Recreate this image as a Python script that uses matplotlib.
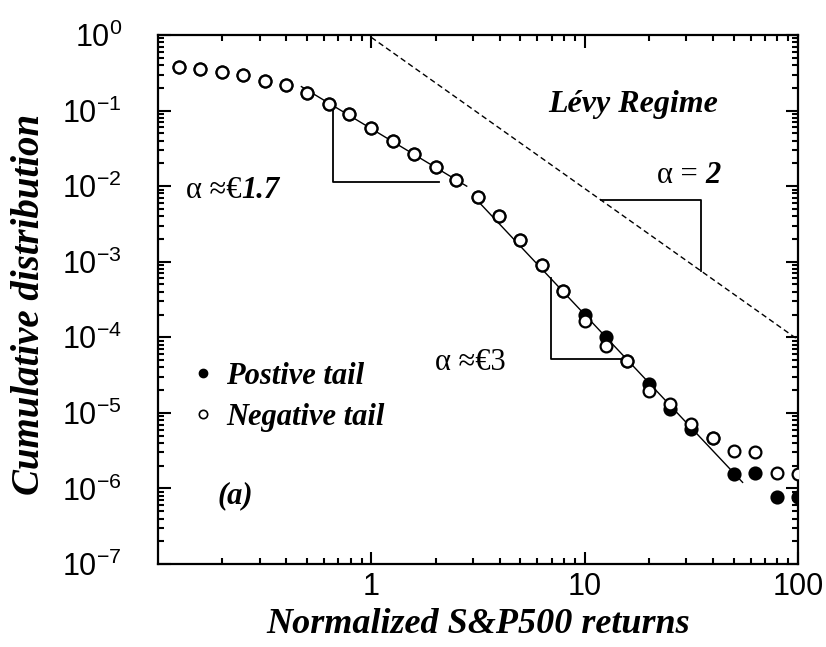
import numpy as np
import matplotlib
matplotlib.use("Agg")
import matplotlib.pyplot as plt
from matplotlib.lines import Line2D

# Normalized S&P500 returns (bin centres, 10 bins per decade)
returns = [0.126, 0.158, 0.2, 0.25, 0.316, 0.398, 0.5, 0.63, 0.79, 1.0,
           1.26, 1.58, 2.0, 2.5, 3.16, 3.98, 5.0, 6.3, 7.9, 10.0,
           12.6, 15.8, 20.0, 25.1, 31.6, 39.8, 50.1, 63.1, 79.4, 100.0]

# Cumulative distribution of the negative tail
negative_tail = [0.38, 0.357, 0.32, 0.295, 0.246, 0.215, 0.172, 0.124, 0.089, 0.058,
                 0.039, 0.0266, 0.0178, 0.0121, 0.00716, 0.00403, 0.00193, 0.000906, 0.00041, 0.000163,
                 7.6e-5, 4.8e-5, 1.95e-5, 1.3e-5, 7.1e-6, 4.7e-6, 3.1e-6, 3.0e-6, 1.58e-6, 1.56e-6]

# Cumulative distribution of the positive tail
positive_tail = [0.38, 0.357, 0.32, 0.295, 0.246, 0.215, 0.172, 0.124, 0.089, 0.058,
                 0.039, 0.0266, 0.0178, 0.0121, 0.00716, 0.00403, 0.00193, 0.000906, 0.00041, 0.000199,
                 1.0e-4, 4.8e-5, 2.39e-5, 1.12e-5, 6.1e-6, 4.7e-6, 1.56e-6, 1.58e-6, 7.7e-7, 7.7e-7]

# Power-law fits  P(x) = amp * x**(-alpha)
fit_mid = dict(alpha=1.7, amp=0.0575, xmin=0.47, xmax=2.8)
fit_tail = dict(alpha=3.0, amp=0.2, xmin=3.0, xmax=55.0)
fit_levy = dict(alpha=2.0, amp=0.93, xmin=1.0, xmax=100.0)

# Slope guides: (x start, x end, base level)
guide_mid = (0.664, 2.08, 0.0113)
guide_tail = (6.93, 14.9, 5.1e-5)
guide_levy = (11.97, 35.1)

x_ticks = [1, 10, 100]
y_ticks = [1e-7, 1e-6, 1e-5, 1e-4, 1e-3, 1e-2, 1e-1, 1e0]
y_ticklabels = ["$10^{-7}$", "$10^{-6}$", "$10^{-5}$", "$10^{-4}$",
                "$10^{-3}$", "$10^{-2}$", "$10^{-1}$", "$10^{0}$"]

plt.rcParams["mathtext.fontset"] = "custom"
plt.rcParams["mathtext.rm"] = "Liberation Sans"
plt.rcParams["mathtext.it"] = "Liberation Sans:italic"
plt.rcParams["mathtext.bf"] = "Liberation Sans:bold"

SERIF = "Liberation Serif"
bi = dict(family=SERIF, weight="bold", style="italic")


def power_law(fit, n=200):
    x = np.logspace(np.log10(fit["xmin"]), np.log10(fit["xmax"]), n)
    return x, fit["amp"] * x ** (-fit["alpha"])


def law_at(fit, x):
    return fit["amp"] * x ** (-fit["alpha"])


fig = plt.figure(figsize=(8.26, 6.47), dpi=100)
ax = fig.add_axes([158 / 826, 1 - 564 / 647, 640 / 826, 529 / 647])
ax.set_xscale("log")
ax.set_yscale("log")
ax.set_xlim(0.1, 100)
ax.set_ylim(1e-7, 10 ** -0.03)

# fitted power laws
xs, ys = power_law(fit_levy)
ax.plot(xs, ys, color="black", lw=1.0, ls=(0, (4, 2.5)), zorder=2)
xs, ys = power_law(fit_mid)
ax.plot(xs, ys, color="black", lw=1.0, zorder=2)
xs, ys = power_law(fit_tail)
ax.plot(xs, ys, color="black", lw=1.0, zorder=2)

# slope triangles
x0, x1, yb = guide_mid
ax.plot([x0, x0, x1], [law_at(fit_mid, x0), yb, yb], color="black", lw=1.3, zorder=2)
x0, x1, yb = guide_tail
ax.plot([x0, x0, x1], [law_at(fit_tail, x0), yb, yb], color="black", lw=1.3, zorder=2)
x0, x1 = guide_levy
ax.plot([x0, x1, x1], [law_at(fit_levy, x0), law_at(fit_levy, x0), law_at(fit_levy, x1)],
        color="black", lw=1.3, zorder=2)

# data
ax.plot(returns, positive_tail, ls="none", marker="o", ms=9, mfc="black",
        mec="black", mew=1.2, zorder=3)
ax.plot(returns, negative_tail, ls="none", marker="o", ms=8.5, mfc="white",
        mec="black", mew=1.6, zorder=4)

# ticks
ax.set_xticks(x_ticks)
ax.set_xticklabels([str(t) for t in x_ticks])
ax.set_yticks(y_ticks)
ax.set_yticklabels(y_ticklabels)
ax.tick_params(which="both", direction="in", top=True, right=True, width=1.5, colors="black")
ax.tick_params(which="major", length=9)
ax.tick_params(which="minor", length=4.5)
ax.tick_params(axis="x", which="major", pad=6, labelsize=22)
ax.tick_params(axis="y", which="major", pad=26, labelsize=22)
for lab in ax.get_xticklabels() + ax.get_yticklabels():
    lab.set_family("Liberation Sans")
for s in ax.spines.values():
    s.set_linewidth(1.6)

# axis labels
ax.set_xlabel("Normalized S&P500 returns", fontsize=26, **bi)
ax.xaxis.set_label_coords(0.5, -0.114)
ax.xaxis.label.set_va("center")
ax.set_ylabel("Cumulative distribution", fontsize=28, **bi)
ax.yaxis.set_label_coords(-0.2, 0.49)
ax.yaxis.label.set_va("center")

# annotations
ax.text(16.9, 0.12, "Lévy Regime", fontsize=23, ha="center", va="center", **bi)

t = ax.text(21.9, 0.014, "α = ", fontsize=22, family=SERIF, ha="left", va="center")
ax.annotate("2", xy=(1, 0), xycoords=t, va="bottom", ha="left", fontsize=22, **bi)

t = ax.text(0.135, 0.00885, "α ≈€", fontsize=22, family=SERIF, ha="left", va="center")
ax.annotate("1.7", xy=(1, 0), xycoords=t, va="bottom", ha="left", fontsize=22, **bi)

t = ax.text(1.99, 4.7e-5, "α ≈€3", fontsize=22, family=SERIF, ha="left", va="center")

ax.text(0.231, 8.1e-7, "(a)", fontsize=22, ha="center", va="center", **bi)

handles = [
    Line2D([], [], ls="none", marker="o", ms=6, mfc="black", mec="black"),
    Line2D([], [], ls="none", marker="o", ms=6, mfc="white", mec="black", mew=1.2),
]
ax.legend(handles, ["Postive tail", "Negative tail"], loc="upper left",
          bbox_to_anchor=(0.052, 0.382), frameon=False, borderpad=0, borderaxespad=0,
          handlelength=0.75, handletextpad=0.4, labelspacing=0.4,
          prop=dict(family=SERIF, weight="bold", style="italic", size=22))

fig.savefig("out.png", dpi=100)
